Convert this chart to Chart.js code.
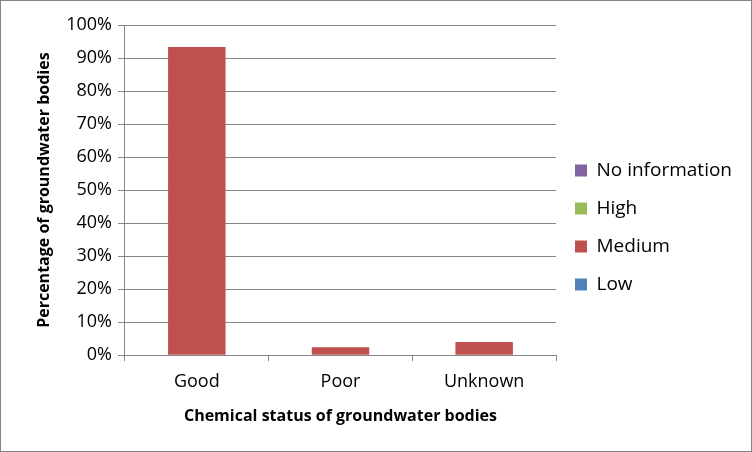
<!DOCTYPE html>
<html>
<head>
<meta charset="utf-8">
<script src="https://cdn.jsdelivr.net/npm/chart.js@4.4.1/dist/chart.umd.min.js"></script>
<style>
  html, body { margin: 0; padding: 0; background: #fff; }
  #wrap { width: 750px; height: 450px; border: 1px solid #868686; }
</style>
</head>
<body>
<div id="wrap"><canvas id="chart" width="750" height="450"></canvas></div>
<script>
// Chart data
const categories = ['Good', 'Poor', 'Unknown'];
const noInformation = [0, 0, 0];
const high = [0, 0, 0];
const medium = [93.3, 2.4, 4.0];
const low = [0, 0, 0];
const yTicks = [0, 10, 20, 30, 40, 50, 60, 70, 80, 90, 100];

const fontFamily = "'Open Sans', 'Noto Sans', sans-serif";
const gridColor = '#868686';

new Chart(document.getElementById('chart').getContext('2d'), {
    type: 'bar',
    data: {
        labels: categories,
        datasets: [
            { label: 'No information', data: noInformation, backgroundColor: '#8064A2' },
            { label: 'High', data: high, backgroundColor: '#9BBB59' },
            { label: 'Medium', data: medium, backgroundColor: '#C0504D' },
            { label: 'Low', data: low, backgroundColor: '#4F81BD' }
        ]
    },
    options: {
        responsive: false,
        animation: false,
        layout: { padding: { left: 30, top: 24, right: 20, bottom: 21 } },
        datasets: {
            bar: { barPercentage: 0.4, categoryPercentage: 1.0 }
        },
        plugins: {
            tooltip: { enabled: false },
            legend: {
                position: 'right',
                labels: {
                    boxWidth: 12,
                    boxHeight: 12,
                    padding: 19,
                    color: '#000',
                    font: { family: fontFamily, size: 19 }
                }
            }
        },
        scales: {
            x: {
                stacked: true,
                grid: {
                    offset: true,
                    drawOnChartArea: false,
                    color: gridColor,
                    tickLength: 6
                },
                border: { color: gridColor },
                ticks: { color: '#000', font: { family: fontFamily, size: 18 }, padding: 10 },
                title: {
                    display: true,
                    text: 'Chemical status of groundwater bodies',
                    color: '#000',
                    font: { family: fontFamily, size: 16, weight: 'bold' },
                    padding: { top: 4 }
                }
            },
            y: {
                stacked: true,
                min: 0,
                max: 100,
                afterBuildTicks: axis => { axis.ticks = yTicks.map(v => ({ value: v })); },
                grid: { color: gridColor, tickLength: 7 },
                border: { color: gridColor },
                ticks: {
                    color: '#000',
                    font: { family: fontFamily, size: 18 },
                    padding: 6,
                    callback: v => v + '%'
                },
                title: {
                    display: true,
                    text: 'Percentage of groundwater bodies',
                    color: '#000',
                    font: { family: fontFamily, size: 16, weight: 'bold' },
                    padding: { bottom: 6 }
                }
            }
        }
    }
});
</script>
</body>
</html>
